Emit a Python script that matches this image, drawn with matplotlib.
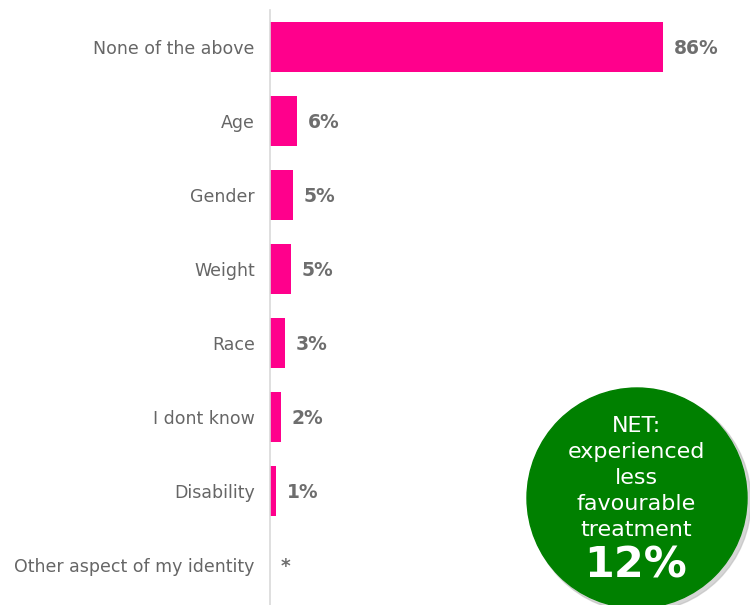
import matplotlib.pyplot as plt
from matplotlib.patches import Circle

# data
categories = ["None of the above", "Age", "Gender", "Weight", "Race",
              "I dont know", "Disability", "Other aspect of my identity"]
values = [86, 5.9, 5.0, 4.6, 3.3, 2.4, 1.3, 0.0]
value_labels = ["86%", "6%", "5%", "5%", "3%", "2%", "1%", "*"]
net_text = "NET:\nexperienced\nless\nfavourable\ntreatment"
net_value = "12%"

bar_color = "#FF008C"
label_color = "#666666"
value_color = "#6E6E6E"

fig = plt.figure(figsize=(7.5, 6.05), dpi=100)
W, H = 750, 605
ax = fig.add_axes([270 / W, 0, 480 / W, 595 / H])

y = list(range(len(categories)))
ax.barh(y, values, height=0.68, color=bar_color)
ax.set_xlim(0, 105)
ax.set_ylim(len(categories) - 0.46, -0.5)

for yi, v, lab in zip(y, values, value_labels):
    ax.text(v + 2.4, yi + 0.02, lab, va="center", ha="left", fontsize=13.5,
            fontweight="bold", color=value_color)

ax.set_yticks(y)
ax.set_yticklabels(categories, fontsize=12.5, color=label_color)
ax.tick_params(axis="y", length=0, pad=11)
ax.set_xticks([])
for side in ["top", "right", "bottom"]:
    ax.spines[side].set_visible(False)
ax.spines["left"].set_color("#D9D9D9")
ax.spines["left"].set_linewidth(1.2)

# green NET bubble, placed in figure inches
cx, cy, r = 6.37, (H - 498) / 100, 1.10
shadow = Circle((cx + 0.03, cy - 0.03), r + 0.01, transform=fig.dpi_scale_trans,
                color="#BBBBBB", alpha=0.6, zorder=5)
bubble = Circle((cx, cy), r, transform=fig.dpi_scale_trans,
                color="#008000", zorder=6)
fig.patches.extend([shadow, bubble])

fig.text(636 / W, 1 - 478 / H, net_text, ha="center", va="center",
         fontsize=16, color="white", linespacing=1.36, zorder=7)
fig.text(636 / W, 1 - 566 / H, net_value, ha="center", va="center",
         fontsize=31, fontweight="bold", color="white", zorder=7)

fig.savefig("out.png", dpi=100)
